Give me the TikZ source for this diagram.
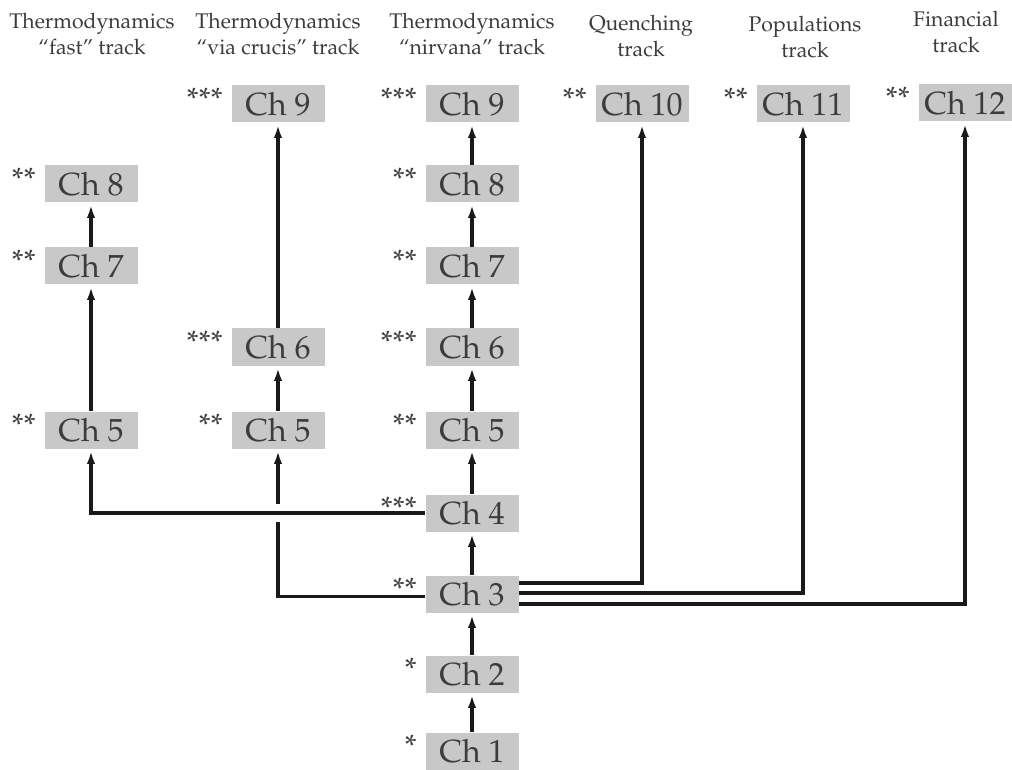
\documentclass[tikz,border=0pt]{standalone}
\usepackage[T1]{fontenc}
\usepackage{mathpazo}
\usetikzlibrary{arrows.meta}
\definecolor{boxgray}{RGB}{200,200,200}
\definecolor{txtgray}{RGB}{60,60,60}
\definecolor{linecol}{RGB}{28,24,24}
\begin{document}
\begin{tikzpicture}[x=0.5pt,y=-0.5pt,
  chbox/.style={fill=boxgray, text=txtgray, minimum width=46.5pt, minimum height=18.5pt, inner sep=0pt, font=\fontsize{16}{18}\selectfont},
  stars/.style={text=txtgray, anchor=base east, inner sep=0pt, font=\fontsize{15.5}{18}\selectfont},
  hdr/.style={text=txtgray, align=center, anchor=north, inner sep=0pt, font=\fontsize{10.6}{12.8}\selectfont},
  conn/.style={draw=linecol, line width=1.6pt},
  arr/.style={conn, -{Latex[length=6.5pt,width=4.2pt]}, shorten >=1pt}]
\useasboundingbox (0,0) rectangle (1012,770);
% headers
\node[hdr] (h1) at (92,13) {Thermodynamics\\``fast'' track};
\node[hdr] (h2) at (278,13) {Thermodynamics\\``via crucis'' track};
\node[hdr] (h3) at (472,13) {Thermodynamics\\``nirvana'' track};
\node[hdr] (h4) at (641,15) {Quenching\\track};
\node[hdr] (h5) at (805,16) {Populations\\track};
\node[hdr] (h6) at (956,11) {Financial\\track};
% column 1
\node[chbox] (c1r8) at (91,184) {Ch 8};
\node[chbox] (c1r7) at (91,266) {Ch 7};
\node[chbox] (c1r5) at (91,430) {Ch 5};
% column 2
\node[chbox] (c2r9) at (278,104) {Ch 9};
\node[chbox] (c2r6) at (278,347) {Ch 6};
\node[chbox] (c2r5) at (278,430) {Ch 5};
% column 3
\node[chbox] (c3r9) at (472,104) {Ch 9};
\node[chbox] (c3r8) at (472,184) {Ch 8};
\node[chbox] (c3r7) at (472,266) {Ch 7};
\node[chbox] (c3r6) at (472,347) {Ch 6};
\node[chbox] (c3r5) at (472,430) {Ch 5};
\node[chbox] (c3r4) at (472,513) {Ch 4};
\node[chbox] (c3r3) at (472,594) {Ch 3};
\node[chbox] (c3r2) at (472,674) {Ch 2};
\node[chbox] (c3r1) at (472,751) {Ch 1};
% other tracks
\node[chbox] (c4r9) at (642,104) {Ch 10};
\node[chbox] (c5r9) at (803,104) {Ch 11};
\node[chbox] (c6r9) at (965,103) {Ch 12};
% stars
\foreach \n/\s in {c1r8/**, c1r7/**, c1r5/**, c2r9/***, c2r6/***, c2r5/**,
  c3r9/***, c3r8/**, c3r7/**, c3r6/***, c3r5/**, c3r4/***, c3r3/**, c3r2/*, c3r1/*,
  c4r9/**, c5r9/**, c6r9/**}
  \node[stars] (s\n) at ([xshift=-4pt,yshift=3pt]\n.base west) {\s};
% connectors, nirvana track
\draw[arr] (c3r1) -- (c3r2);
\draw[arr] (c3r2) -- (c3r3);
\draw[arr] (c3r3) -- (c3r4);
\draw[arr] (c3r4) -- (c3r5);
\draw[arr] (c3r5) -- (c3r6);
\draw[arr] (c3r6) -- (c3r7);
\draw[arr] (c3r7) -- (c3r8);
\draw[arr] (c3r8) -- (c3r9);
% fast track
\draw[arr] (c1r5) -- (c1r7);
\draw[arr] (c1r7) -- (c1r8);
\draw[arr] (c3r4.west) -| (c1r5.south);
% via crucis track
\coordinate (g1) at (c2r5.south |- c3r4.west);
\coordinate (gbot) at ([yshift=-4.25pt]g1);
\coordinate (gtop) at ([yshift=4.75pt]g1);
\draw[conn] ([yshift=-1.25pt]c3r3.west) -| (gbot);
\draw[arr] (gtop) -- (c2r5.south);
\draw[arr] (c2r5) -- (c2r6);
\draw[arr] (c2r6) -- (c2r9);
% other tracks
\draw[arr] ([yshift=5.5pt]c3r3.east) -| (c4r9.south);
\draw[arr] ([yshift=0.5pt]c3r3.east) -| (c5r9.south);
\draw[arr] ([yshift=-5pt]c3r3.east) -| (c6r9.south);
\end{tikzpicture}
\end{document}
